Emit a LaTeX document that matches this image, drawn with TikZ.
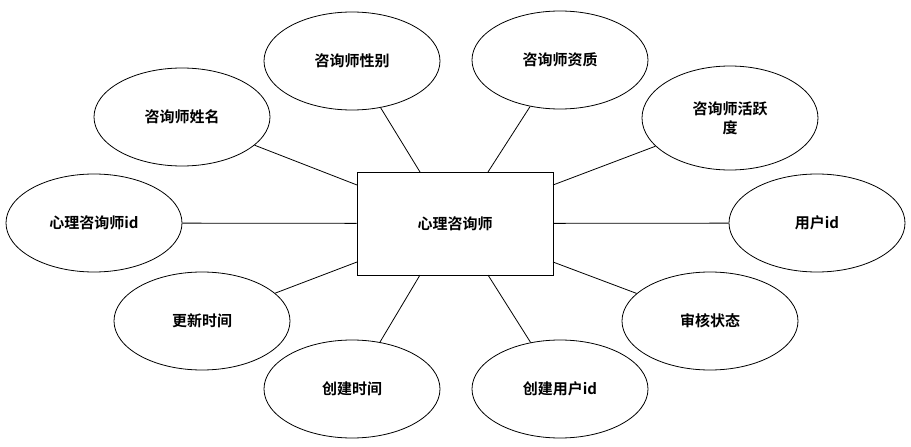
\documentclass[tikz,border=0pt]{standalone}
\usepackage{fontspec}
\newfontfamily\cjk{Noto Sans CJK SC}[BoldFont={Noto Sans CJK SC Bold}]
\usetikzlibrary{shapes.geometric}
\begin{document}
\begin{tikzpicture}[x=1pt,y=-1pt,
 attr/.style={draw,thick,ellipse,minimum width=176pt,minimum height=98pt,inner sep=0pt,align=center,font=\cjk\bfseries\fontsize{15}{19}\selectfont},
 ent/.style={draw,thick,minimum width=196pt,minimum height=103pt,font=\cjk\bfseries\fontsize{15}{19}\selectfont},
 ln/.style={thick}]
\useasboundingbox (0,0) rectangle (911,447);
\node[ent] (c) at (455,223.5) {心理咨询师};
\node[attr] (a1) at (352,61) {咨询师性别};
\node[attr] (a2) at (560,60) {咨询师资质};
\node[attr] (a3) at (182,117) {咨询师姓名};
\node[attr,minimum height=104pt] (a4) at (730,118) {咨询师活跃\\度};
\node[attr] (a5) at (94,223) {心理咨询师id};
\node[attr] (a6) at (817,223) {用户id};
\node[attr] (a7) at (202,321) {更新时间};
\node[attr] (a8) at (710,321) {审核状态};
\node[attr] (a9) at (352,389) {创建时间};
\node[attr] (a10) at (560,389) {创建用户id};
\draw[ln] (420,172) -- (a1);
\draw[ln] (488,172) -- (a2);
\draw[ln] (357,185) -- (a3);
\draw[ln] (553,185) -- (a4);
\draw[ln] (c) -- (a5);
\draw[ln] (c) -- (a6);
\draw[ln] (357,262) -- (a7);
\draw[ln] (553,262) -- (a8);
\draw[ln] (420,275) -- (a9);
\draw[ln] (488,275) -- (a10);
\end{tikzpicture}
\end{document}
